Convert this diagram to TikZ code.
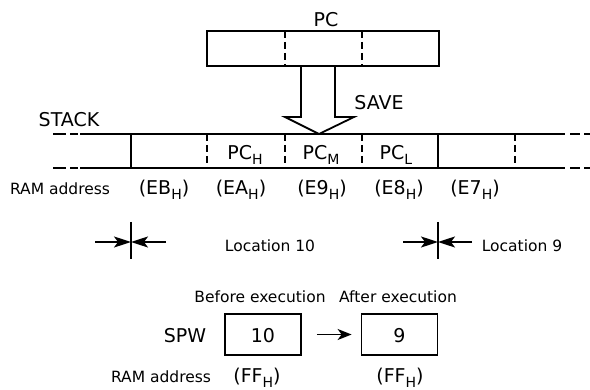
\documentclass[tikz,border=0pt]{standalone}
\usepackage{fontspec}
\setmainfont{DejaVu Sans}
\usetikzlibrary{arrows.meta}
\newcommand\sbs[1]{\raisebox{-0.4ex}{\fontsize{14}{14}\selectfont #1}}
\begin{document}
\begin{tikzpicture}[x=1pt,y=-1pt,
  lw/.style={line width=1.8pt},
  dsh/.style={line width=1.8pt,dash pattern=on 7pt off 4pt},
  txt/.style={inner sep=0pt,anchor=base,font=\fontsize{15.5}{17}\selectfont},
  big/.style={inner sep=0pt,anchor=base,font=\fontsize{19}{20}\selectfont},
  tip/.style={-{Stealth[length=17pt,width=11pt,inset=4pt]},line width=1.8pt},
  tipb/.style={-{Stealth[length=14pt,width=11pt,inset=4pt]},line width=1.8pt},
  reg/.style={draw,line width=1.8pt,inner sep=0pt,minimum height=41pt,minimum width=76pt}
]
\useasboundingbox (0,0) rectangle (590,390);
% PC register
\node[big] (pc) at (326,27) {PC};
\draw[lw] (207,31) rectangle (439,66);
\draw[dsh] (285,31) -- (285,66);
\draw[dsh] (362,31) -- (362,66);
% save arrow
\draw[lw,line join=miter] (301,66) -- (301,117) -- (285,117) -- (319,134) -- (354,117) -- (335,117) -- (335,66);
\node[big] (save) at (379,110) {SAVE};
% stack
\node[big] (stack) at (69,127) {STACK};
\draw[lw] (80,134) -- (565,134);
\draw[lw] (80,168) -- (565,168);
\draw[lw] (53,134) -- (66,134) (70,134) -- (78,134);
\draw[lw] (53,168) -- (66,168) (70,168) -- (78,168);
\draw[lw] (570,134) -- (580,134) (584,134) -- (590,134);
\draw[lw] (570,168) -- (580,168) (584,168) -- (590,168);
\draw[lw] (131,134) -- (131,168);
\draw[lw] (438,134) -- (438,168);
\foreach \x in {207,285,362,515} \draw[dsh] (\x,134) -- (\x,168);
\node[big] (pch) at (245,160) {PC\sbs{H}};
\node[big] (pcm) at (321,160) {PC\sbs{M}};
\node[big] (pcl) at (396,160) {PC\sbs{L}};
% RAM addresses
\node[txt] (ram1) at (60,195) {RAM address};
\node[big] (eb) at (164,195) {(EB\sbs{H})};
\node[big] (ea) at (241,195) {(EA\sbs{H})};
\node[big] (e9) at (322,195) {(E9\sbs{H})};
\node[big] (e8) at (399,195) {(E8\sbs{H})};
\node[big] (e7) at (475,195) {(E7\sbs{H})};
% locations
\coordinate (l10t) at (131,222); \coordinate (l10b) at (131,259);
\coordinate (l10) at (131,242);
\coordinate (l10a) at (95,242); \coordinate (l10c) at (166,242);
\draw[lw] (l10t) -- (l10b);
\draw[tip] (l10a) -- (l10);
\draw[tip] (l10c) -- (l10);
\node[txt] (loc10) at (270,252) {Location 10};
\coordinate (l9t) at (438,222); \coordinate (l9b) at (438,259);
\coordinate (l9) at (438,242);
\coordinate (l9a) at (403,242); \coordinate (l9c) at (472,242);
\draw[lw] (l9t) -- (l9b);
\draw[tip] (l9a) -- (l9);
\draw[tip] (l9c) -- (l9);
\node[txt] (loc9) at (522,252) {Location 9};
% SPW
\node[txt] (before) at (260,303) {Before execution};
\node[txt] (after) at (398,303) {After execution};
\node[big] (spw) at (185,343) {SPW};
\node[reg] (b10) at (263,334.5) {};
\node[reg] (b9) at (399.5,334.5) {};
\node[big] (t10) at (263,343) {10};
\node[big] (t9) at (399.5,343) {9};
\draw[tipb] ([xshift=15pt]b10.east) -- ([xshift=-9pt]b9.west);
\node[txt] (ram2) at (161,383) {RAM address};
\node[big] (ff1) at (257,383) {(FF\sbs{H})};
\node[big] (ff2) at (400,383) {(FF\sbs{H})};
\end{tikzpicture}
\end{document}
